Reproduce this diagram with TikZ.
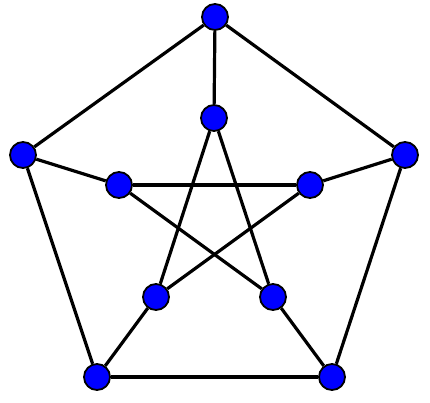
\documentclass[tikz,border=0pt]{standalone}
\usetikzlibrary{positioning}
\tikzset{
  v/.style={circle, draw, fill=blue, line width=1.8pt,
    minimum size=26pt, inner sep=0pt},
  e/.style={line width=3.2pt},
}
\begin{document}
\begin{tikzpicture}[x=1pt, y=-1pt]
  \useasboundingbox (0,0) rectangle (430,402);
  % outer pentagon
  \node[v](O1) at (215,17){};
  \node[v](O2) at (23,155){};
  \node[v](O3) at (97,377){};
  \node[v](O4) at (332,377){};
  \node[v](O5) at (405,155){};
  % inner star
  \node[v](I1) at (214,118){};
  \node[v](I2) at (119,185){};
  \node[v](I3) at (156,297){};
  \node[v](I4) at (273,297){};
  \node[v](I5) at (310,185){};
  \foreach \a/\b in {O1/O2,O2/O3,O3/O4,O4/O5,O5/O1,
    O1/I1,O2/I2,O3/I3,O4/I4,O5/I5,
    I1/I3,I3/I5,I5/I2,I2/I4,I4/I1}
    \draw[e](\a) -- (\b);
\end{tikzpicture}
\end{document}
